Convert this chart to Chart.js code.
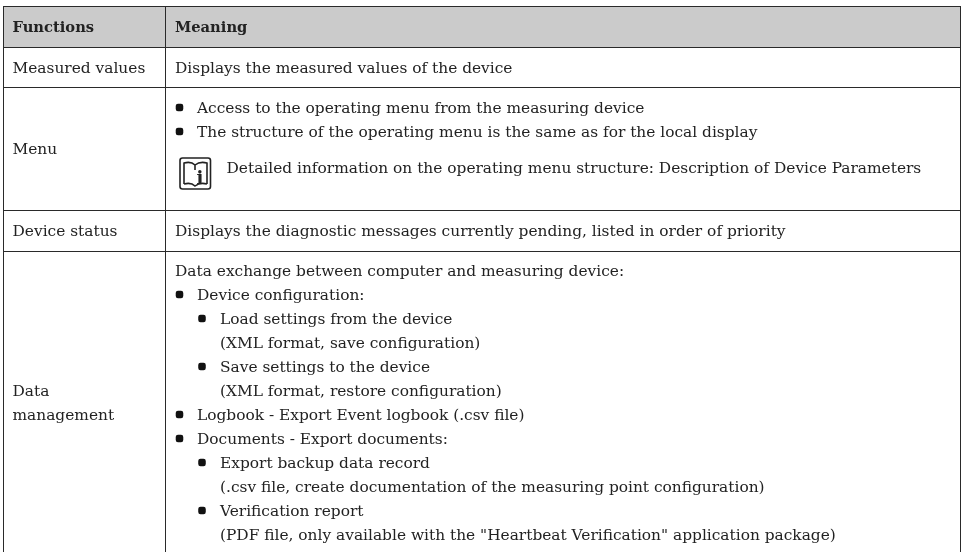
<!DOCTYPE html>
<html>
<head>
<meta charset="utf-8">
<style>
  html, body { margin: 0; padding: 0; background: #fff; }
  #wrap { width: 968px; height: 552px; }
</style>
<script src="https://cdn.jsdelivr.net/npm/chart.js@4"></script>
</head>
<body>
<div id="wrap"><canvas id="table"></canvas></div>
<script>
const columns = ['Functions', 'Meaning'];
const functionsCol = ['Measured values', 'Menu', 'Device status', 'Data', 'management'];
const rowEdges = [6, 47, 87, 210, 251];
const colEdges = [3, 165, 960];

// [depth, text] depth 0 = plain, 1 = bullet, 2 = sub bullet, 3 = continuation of sub bullet
const measuredLines = [[0, 'Displays the measured values of the device']];
const menuLines = [
  [1, 'Access to the operating menu from the measuring device'],
  [1, 'The structure of the operating menu is the same as for the local display'],
];
const noteText = 'Detailed information on the operating menu structure: Description of Device Parameters';
const statusLines = [[0, 'Displays the diagnostic messages currently pending, listed in order of priority']];
const dataLines = [
  [0, 'Data exchange between computer and measuring device:'],
  [1, 'Device configuration:'],
  [2, 'Load settings from the device'],
  [3, '(XML format, save configuration)'],
  [2, 'Save settings to the device'],
  [3, '(XML format, restore configuration)'],
  [1, 'Logbook - Export Event logbook (.csv file)'],
  [1, 'Documents - Export documents:'],
  [2, 'Export backup data record'],
  [3, '(.csv file, create documentation of the measuring point configuration)'],
  [2, 'Verification report'],
  [3, '(PDF file, only available with the "Heartbeat Verification" application package)'],
];

// layout of the text
const lineHeight = 24;
const textX = [175, 197, 220, 220];
const bulletX = [0, 179.5, 202, 0];
const bodyFont = '15.4px "DejaVu Serif"';
const headFont = 'bold 14.7px "DejaVu Serif"';

function linePoints(lines, firstBaseline) {
  const pts = [];
  lines.forEach((l, i) => {
    if (l[0] === 1 || l[0] === 2) pts.push({ x: bulletX[l[0]], y: firstBaseline + i * lineHeight - 5.5 });
  });
  return pts;
}

const bullets = [...linePoints(menuLines, 113), ...linePoints(dataLines, 276)];

const tablePlugin = {
  id: 'tableText',
  afterDatasetsDraw(chart) {
    const { ctx, scales } = chart;
    const px = v => scales.x.getPixelForValue(v);
    const py = v => scales.y.getPixelForValue(v);
    ctx.save();
    ctx.fillStyle = '#222';
    ctx.textBaseline = 'alphabetic';

    ctx.font = headFont;
    ctx.fillText(columns[0], px(12.5), py(32));
    ctx.fillText(columns[1], px(175), py(32));

    ctx.font = bodyFont;
    const fnBaselines = [73, 154, 236, 396, 420];
    functionsCol.forEach((t, i) => ctx.fillText(t, px(12.5), py(fnBaselines[i])));

    const drawLines = (lines, y0) => lines.forEach((l, i) => {
      ctx.fillText(l[1], px(textX[l[0]]), py(y0 + i * lineHeight));
    });
    drawLines(measuredLines, 73);
    drawLines(menuLines, 113);
    drawLines(statusLines, 236);
    drawLines(dataLines, 276);
    ctx.fillText(noteText, px(226.5), py(173));

    // book icon of the note
    ctx.strokeStyle = '#222';
    ctx.lineWidth = 1.6;
    ctx.beginPath();
    ctx.roundRect(px(180), py(158), 30.5, 31, 2.5);
    ctx.moveTo(px(184), py(184));
    ctx.lineTo(px(184), py(163));
    ctx.quadraticCurveTo(px(191), py(161), px(195), py(165));
    ctx.quadraticCurveTo(px(200), py(161), px(207), py(163));
    ctx.lineTo(px(207), py(184));
    ctx.moveTo(px(195), py(165));
    ctx.lineTo(px(195), py(170));
    ctx.moveTo(px(184), py(184));
    ctx.quadraticCurveTo(px(191), py(182), px(195), py(186));
    ctx.quadraticCurveTo(px(200), py(182), px(207), py(184));
    ctx.stroke();
    ctx.font = 'bold 18px "DejaVu Serif"';
    ctx.fillText('i', px(196.5), py(184));
    ctx.restore();
  }
};

new Chart(document.getElementById('table'), {
  type: 'bar',
  plugins: [tablePlugin],
  data: {
    datasets: [
      {
        // header band
        data: [{ x: [colEdges[0], colEdges[2]], y: (rowEdges[0] + rowEdges[1]) / 2 }],
        backgroundColor: '#cbcbcb',
        barThickness: rowEdges[1] - rowEdges[0],
        order: 2,
      },
      {
        type: 'scatter',
        data: bullets,
        pointStyle: 'rectRounded',
        pointRadius: 4.4,
        backgroundColor: '#111',
        borderWidth: 0,
        order: 1,
      }
    ]
  },
  options: {
    indexAxis: 'y',
    responsive: true,
    maintainAspectRatio: false,
    animation: false,
    layout: { autoPadding: false, padding: { left: 3, right: 7, top: 6, bottom: 0 } },
    plugins: { legend: { display: false }, tooltip: { enabled: false } },
    scales: {
      x: {
        type: 'linear', min: 3, max: 961, position: 'top',
        afterBuildTicks: s => { s.ticks = colEdges.map(v => ({ value: v })); },
        ticks: { display: false },
        border: { display: false },
        grid: { color: '#2a2a2a', lineWidth: 1, drawTicks: false, z: 1 },
      },
      y: {
        type: 'linear', min: 6, max: 552, reverse: true, offset: false,
        afterBuildTicks: s => { s.ticks = rowEdges.map(v => ({ value: v })); },
        ticks: { display: false },
        border: { display: false },
        grid: { color: '#2a2a2a', lineWidth: 1, drawTicks: false, offset: false, z: 1 },
      }
    }
  }
});
</script>
</body>
</html>
